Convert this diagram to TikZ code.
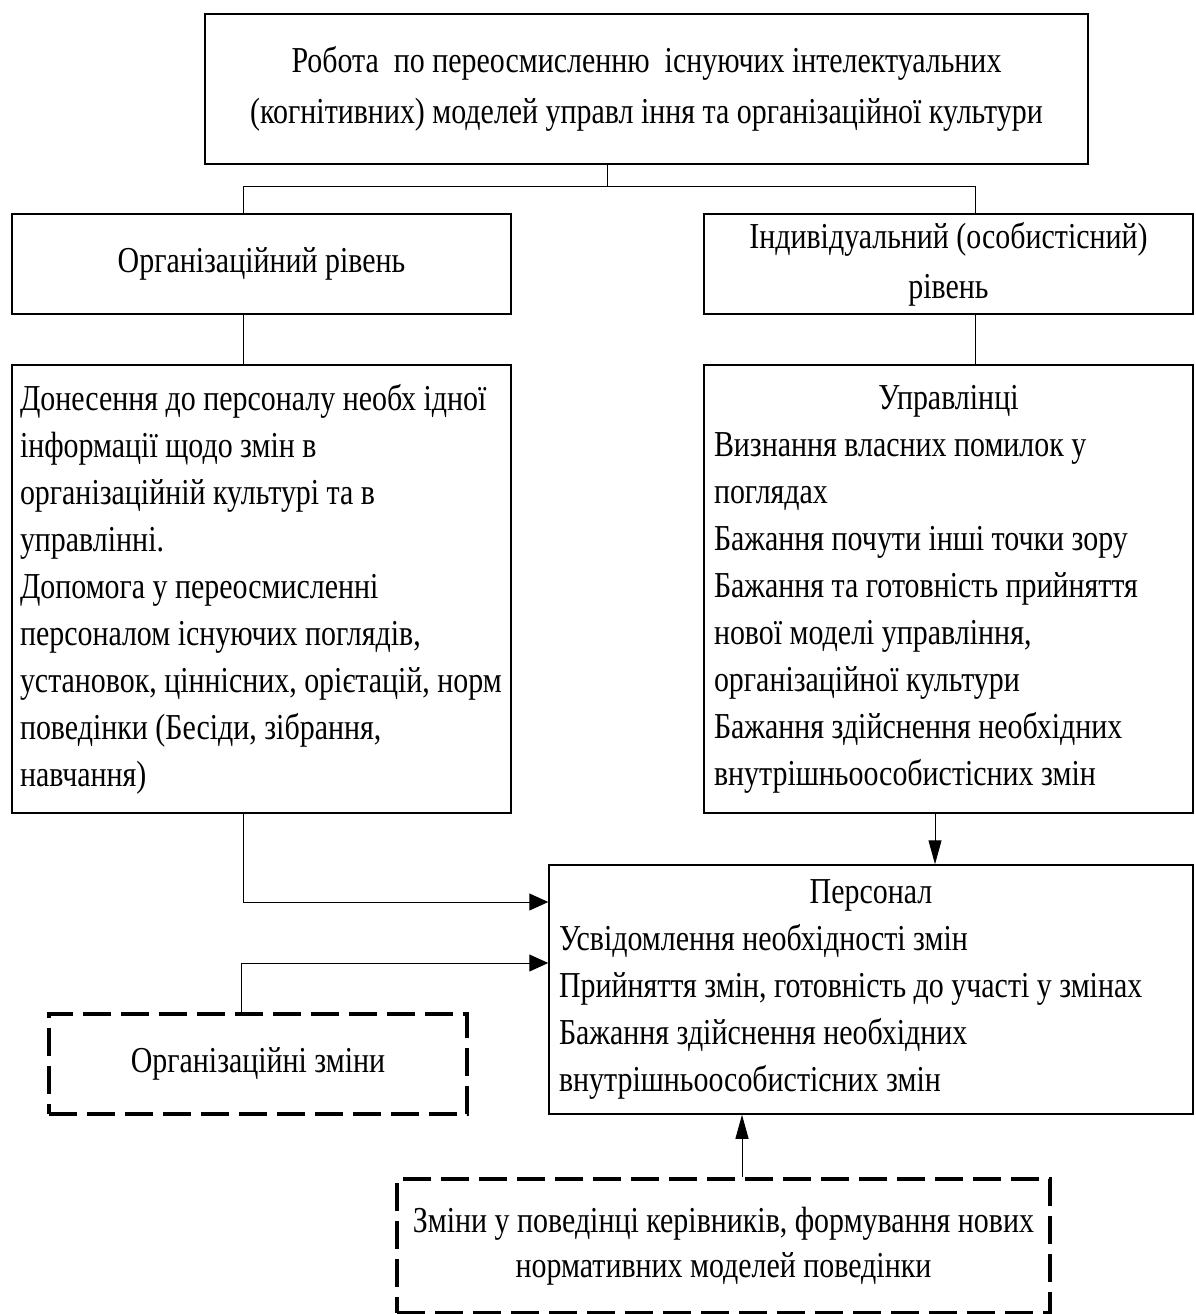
\documentclass[tikz,border=0pt]{standalone}
\usepackage{fontspec}
\setmainfont{Liberation Serif}[FakeStretch=0.82]
\usetikzlibrary{positioning}
\usetikzlibrary{arrows.meta}
\setlength{\parindent}{0pt}
\tikzset{
    box/.style={draw, rectangle, line width=1.5pt, inner xsep=10pt, inner ysep=0pt,
        font=\fontsize{36.5}{47}\selectfont,
        execute at begin node={\spaceskip=0pt\xspaceskip=0pt\relax}},
    dashBox/.style={box, line width=3.5pt, dash pattern=on 28pt off 10pt}
}
\tikzset{
    conn/.style={draw, line width=1pt},
    connH/.style={conn, -{Triangle[length=19pt,width=17pt]}},
    connV/.style={conn, -{Triangle[length=24pt,width=13pt]}}
}

\begin{document}
\begin{tikzpicture}[x=1pt,y=-1pt]
          \useasboundingbox (0,0) rectangle (1195,1314);
          \node[box, minimum width=883, minimum height=150, align=center,
              font=\fontsize{36.5}{51}\selectfont] (top) at (646.5,89)
              {Робота~ по переосмисленню~ існуючих інтелектуальних\\(когнітивних) моделей управл іння та організаційної культури};
          \node[box, minimum width=499, minimum height=100] (orgLevel) at (261.5,264) {Організаційний рівень};
          \node[box, minimum width=489, minimum height=100, align=center,
              font=\fontsize{36.5}{50}\selectfont] (indLevel) at (948.5,264) {Індивідуальний (особистісний)\\рівень};
          \node[box, minimum width=499, minimum height=448, inner xsep=8pt, text width=483, align=left] (orgText) at (261.5,589)
              {Донесення до персоналу необх ідної\\
              інформації щодо змін в\\
              організаційній культурі та в\\
              управлінні.\\
              Допомога у переосмисленні\\
              персоналом існуючих поглядів,\\
              установок, ціннісних, орієтацій, норм\\
              поведінки (Бесіди, зібрання,\\
              навчання)};
          \node[box, minimum width=489, minimum height=448, text width=469, align=left] (indText) at (948.5,589)
              {\makebox[\hsize]{Управлінці}\\
              Визнання власних помилок у\\
              поглядах\\
              Бажання почути інші точки зору\\
              Бажання та готовність прийняття\\
              нової моделі управління,\\
              організаційної культури\\
              Бажання здійснення необхідних\\
              внутрішньоособистісних змін};
          \node[box, minimum width=644, minimum height=249, text width=624, align=left] (staff) at (871,989.5)
              {\makebox[\hsize]{Персонал}\\
              Усвідомлення необхідності змін\\
              Прийняття змін, готовність до участі у змінах\\
              Бажання здійснення необхідних\\
              внутрішньоособистісних змін};
          \node[dashBox, minimum width=418, minimum height=100] (orgChange) at (258,1064) {Організаційні зміни};
          \node[dashBox, minimum width=653, minimum height=134, align=center,
              font=\fontsize{36.5}{45}\selectfont] (behChange) at (723.5,1246)
              {Зміни у поведінці керівників, формування нових\\нормативних моделей поведінки};
          % bus under the top box
          \coordinate (split) at (607,186);
          \coordinate (leftBus) at (243,186);
          \coordinate (rightBus) at (975,186);
          \draw[conn] (top.south -| split) -- (split);
          \draw[conn] (orgLevel.north -| leftBus) -- (leftBus) -- (rightBus) -- (indLevel.north -| rightBus);
          \draw[conn] (orgLevel.south -| leftBus) -- (orgText.north -| leftBus);
          \draw[conn] (indLevel.south -| rightBus) -- (indText.north -| rightBus);
          % into the staff box
          \draw[connH] (orgText.south -| leftBus) |- ([yshift=87.5pt]staff.west);
          \draw[connH] ([xshift=-17pt]orgChange.north) |- ([yshift=26.5pt]staff.west);
          \draw[connV] ([xshift=-13.5pt]indText.south) -- ([xshift=64pt]staff.north);
          \draw[connV] ([xshift=18.5pt]behChange.north) -- ([xshift=-129pt]staff.south);
\end{tikzpicture}
\end{document}
